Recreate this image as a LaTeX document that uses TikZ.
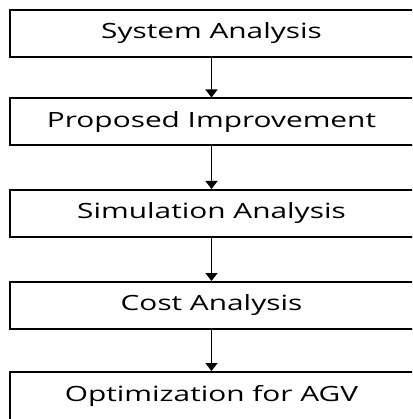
\documentclass[tikz,border=0pt]{standalone}
\usepackage{fontspec}
\setmainfont{Open Sans}[FakeStretch=1.42]
\usetikzlibrary{arrows.meta}
\begin{document}
\begin{tikzpicture}[x=1pt,y=-1pt,
  stepbox/.style={draw=black, line width=2pt, rectangle, minimum width=404pt,
    minimum height=47pt, inner sep=0pt, font=\fontsize{21}{24}\selectfont, text=black},
  flow/.style={line width=1.2pt, -{Triangle[width=12pt,length=8pt]}}]
\useasboundingbox (0,0) rectangle (412,419);
\clip (0,0) rectangle (412,419);
\node[stepbox] (a) at (211.5,33.5) {System Analysis};
\node[stepbox] (b) at (211.5,122) {Proposed Improvement};
\node[stepbox] (c) at (211.5,213.5) {Simulation Analysis};
\node[stepbox] (d) at (211.5,305.5) {Cost Analysis};
\node[stepbox, minimum height=95pt, text depth=0pt] (e) at (211.5,419.5) {};
\node[font=\fontsize{21}{24}\selectfont, text=black] (et) at (211.5,395.5) {Optimization for AGV};
\draw[flow] (a) -- (b);
\draw[flow] (b) -- (c);
\draw[flow] (c) -- (d);
\draw[flow] (d) -- (e);
\end{tikzpicture}
\end{document}
